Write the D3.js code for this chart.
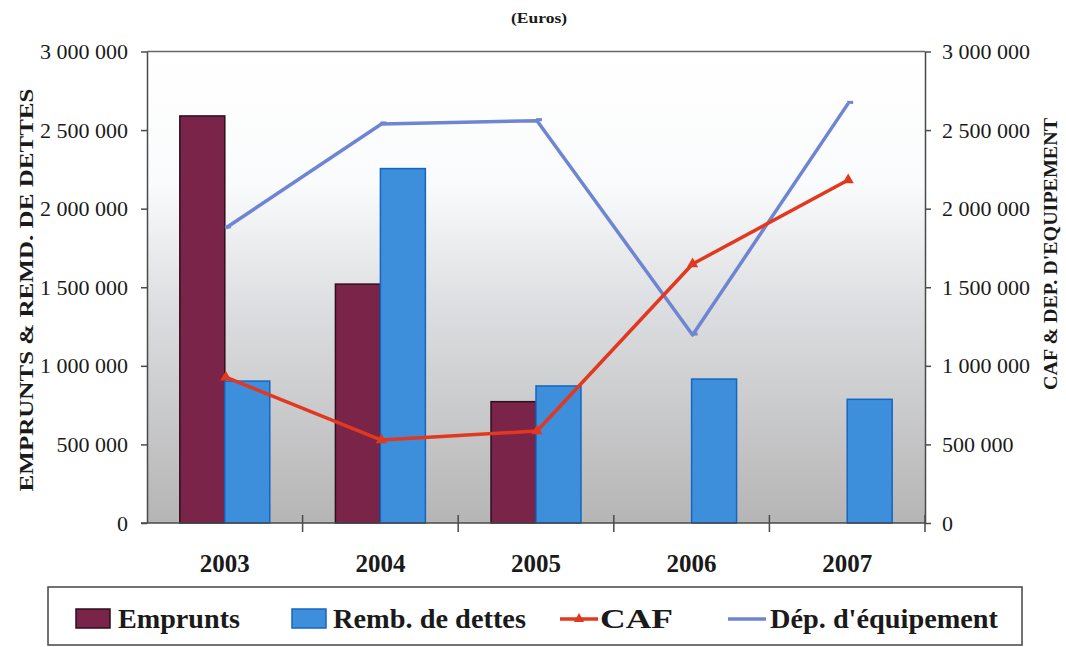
<!DOCTYPE html>
<html>
<head>
<meta charset="utf-8">
<script src="https://cdn.jsdelivr.net/npm/d3@7/dist/d3.min.js"></script>
<style>
  html, body { margin: 0; padding: 0; background: #ffffff; }
  svg { display: block; }
  text { font-family: "Liberation Serif", "Times New Roman", "DejaVu Serif", serif; fill: #1a1a1a; }
</style>
</head>
<body>
<svg id="chart" width="1066" height="647"></svg>
<script>
// ---- Data ----
const years = ["2003", "2004", "2005", "2006", "2007"];
const emprunts = [2590000, 1520000, 772000, 0, 0];
const rembDettes = [903000, 2255000, 872000, 916000, 787000];
const caf = [928000, 528000, 585000, 1648000, 2182000];
const depEquipement = [1877000, 2539000, 2560000, 1196000, 2670000];
const yTicks = [0, 500000, 1000000, 1500000, 2000000, 2500000, 3000000];
const barSeries = ["Emprunts", "Remb. de dettes"];
const lineSeries = ["CAF", "Dép. d'équipement"];

(function () {
// ---- Layout ----
const svg = d3.select("#chart");
const pL = 147, pR = 925, pT = 51.5, pB = 523;
const colEmp = "#7b2449", colEmpStroke = "#2b0f1c";
const colRemb = "#3d8fdc", colRembStroke = "#1665c0";
const colCaf = "#e2381f", colDep = "#6e85d2";

const x0 = d3.scaleBand().domain(years).range([pL, pR]).paddingInner(0).paddingOuter(0);
const x1 = d3.scaleBand().domain(barSeries).range([0, x0.bandwidth()]).paddingInner(0).paddingOuter(0.73);
const y = d3.scaleLinear().domain([0, 3000000]).range([pB, pT]);
const fmt = d3.formatLocale({ decimal: ",", thousands: " ", grouping: [3], currency: ["", " €"] }).format(",");

// Background gradient in plot area
const defs = svg.append("defs");
const grad = defs.append("linearGradient").attr("id", "bg").attr("x1", 0).attr("y1", 0).attr("x2", 0).attr("y2", 1);
grad.append("stop").attr("offset", "0%").attr("stop-color", "#ffffff");
grad.append("stop").attr("offset", "28%").attr("stop-color", "#fafbfc");
grad.append("stop").attr("offset", "55%").attr("stop-color", "#dcdde0");
grad.append("stop").attr("offset", "100%").attr("stop-color", "#b5b5b5");

svg.append("rect").attr("x", pL).attr("y", pT).attr("width", pR - pL).attr("height", pB - pT)
  .attr("fill", "url(#bg)");

// Title
svg.append("text").attr("x", 539).attr("y", 23).attr("text-anchor", "middle")
  .attr("font-size", 14).attr("font-weight", "bold").attr("textLength", 56).attr("lengthAdjust", "spacingAndGlyphs")
  .text("(Euros)");

// Bars
const barData = [];
years.forEach((yr, i) => {
  barData.push({ year: yr, key: "Emprunts", v: emprunts[i] });
  barData.push({ year: yr, key: "Remb. de dettes", v: rembDettes[i] });
});
svg.append("g").selectAll("rect").data(barData.filter(d => d.v > 0)).join("rect")
  .attr("x", d => x0(d.year) + x1(d.key))
  .attr("y", d => y(d.v))
  .attr("width", x1.bandwidth())
  .attr("height", d => y(0) - y(d.v))
  .attr("fill", d => d.key === "Emprunts" ? colEmp : colRemb)
  .attr("stroke", d => d.key === "Emprunts" ? colEmpStroke : colRembStroke)
  .attr("stroke-width", 1.5);

// Lines
const cx = yr => x0(yr) + x0.bandwidth() / 2 + 1;
const line = d3.line().x(d => cx(d.year)).y(d => y(d.v));
const depData = years.map((yr, i) => ({ year: yr, v: depEquipement[i] }));
const cafData = years.map((yr, i) => ({ year: yr, v: caf[i] }));

svg.append("path").datum(depData).attr("d", line).attr("fill", "none")
  .attr("stroke", colDep).attr("stroke-width", 3.5).attr("stroke-linejoin", "round");
svg.append("g").selectAll("line").data(depData).join("line")
  .attr("x1", d => cx(d.year) - 1).attr("x2", d => cx(d.year) + 5)
  .attr("y1", d => y(d.v) - 1).attr("y2", d => y(d.v) - 1)
  .attr("stroke", colDep).attr("stroke-width", 3);

svg.append("path").datum(cafData).attr("d", line).attr("fill", "none")
  .attr("stroke", colCaf).attr("stroke-width", 3.5).attr("stroke-linejoin", "round");
svg.append("g").selectAll("path").data(cafData).join("path")
  .attr("transform", d => `translate(${cx(d.year)},${y(d.v)})`)
  .attr("d", d3.symbol().type(d3.symbolTriangle).size(55))
  .attr("fill", colCaf);

// Plot border / axes
const axisCol = "#4a4a4a";
svg.append("line").attr("x1", pL).attr("x2", pR).attr("y1", pT).attr("y2", pT)
  .attr("stroke", "#666").attr("stroke-width", 1.5);

const yLeft = d3.axisLeft(y).tickValues(yTicks).tickFormat(fmt).tickSize(6).tickSizeOuter(0).tickPadding(13);
const gl = svg.append("g").attr("transform", `translate(${pL},0)`).call(yLeft);
const yRight = d3.axisRight(y).tickValues(yTicks).tickFormat(fmt).tickSize(6).tickSizeOuter(0).tickPadding(11);
const gr = svg.append("g").attr("transform", `translate(${pR},0)`).call(yRight);
[gl, gr].forEach(g => {
  g.select(".domain").attr("stroke", axisCol).attr("stroke-width", 1.5);
  g.selectAll(".tick line").attr("stroke", axisCol).attr("stroke-width", 1.5);
  g.selectAll(".tick text").attr("font-size", 22).attr("fill", "#1a1a1a")
    .attr("font-family", "'Liberation Serif','Times New Roman',serif");
});

// Bottom axis
svg.append("line").attr("x1", pL - 6).attr("x2", pR).attr("y1", pB).attr("y2", pB)
  .attr("stroke", axisCol).attr("stroke-width", 1.5);
const bounds = years.map(yr => x0(yr)).concat([pR]).slice(1);
svg.append("g").selectAll("line").data(bounds).join("line")
  .attr("x1", d => d).attr("x2", d => d).attr("y1", pB - 8).attr("y2", pB + 9)
  .attr("stroke", axisCol).attr("stroke-width", 1.5);
svg.append("g").selectAll("text").data(years).join("text")
  .attr("x", d => x0(d) + x0.bandwidth() / 2)
  .attr("y", 572).attr("text-anchor", "middle")
  .attr("font-size", 25).attr("font-weight", "bold").text(d => d);

// Axis titles
svg.append("text").attr("transform", "translate(33,290) rotate(-90)").attr("text-anchor", "middle")
  .attr("font-size", 19).attr("font-weight", "bold")
  .attr("textLength", 403).attr("lengthAdjust", "spacingAndGlyphs")
  .text("EMPRUNTS & REMD. DE DETTES");
svg.append("text").attr("transform", "translate(1057,254) rotate(-90)").attr("text-anchor", "middle")
  .attr("font-size", 19).attr("font-weight", "bold")
  .attr("textLength", 272).attr("lengthAdjust", "spacingAndGlyphs")
  .text("CAF & DEP. D'EQUIPEMENT");

// Legend
const lg = svg.append("g");
lg.append("rect").attr("x", 48).attr("y", 587).attr("width", 974).attr("height", 58)
  .attr("fill", "#ffffff").attr("stroke", "#444").attr("stroke-width", 1.5);
const legendItems = [
  { label: barSeries[0], type: "bar", fill: colEmp, stroke: colEmpStroke, sx: 76, tx: 118, tw: 122 },
  { label: barSeries[1], type: "bar", fill: colRemb, stroke: colRembStroke, sx: 292, tx: 333, tw: 193 },
  { label: lineSeries[0], type: "line", color: colCaf, sx: 560, tx: 600, tw: 73, marker: true },
  { label: lineSeries[1], type: "line", color: colDep, sx: 728, tx: 770, tw: 228 }
];
legendItems.forEach(it => {
  if (it.type === "bar") {
    lg.append("rect").attr("x", it.sx).attr("y", 609).attr("width", 34).attr("height", 19)
      .attr("fill", it.fill).attr("stroke", it.stroke).attr("stroke-width", 1.5);
  } else {
    lg.append("line").attr("x1", it.sx).attr("x2", it.sx + 38).attr("y1", 619).attr("y2", 619)
      .attr("stroke", it.color).attr("stroke-width", 3.5);
    if (it.marker) {
      lg.append("path").attr("transform", `translate(${it.sx + 19},619)`)
        .attr("d", d3.symbol().type(d3.symbolTriangle).size(45)).attr("fill", it.color);
    }
  }
  lg.append("text").attr("x", it.tx).attr("y", 628).attr("font-size", 27).attr("font-weight", "bold")
    .attr("textLength", it.tw).attr("lengthAdjust", "spacingAndGlyphs").text(it.label);
});
})();
</script>
</body>
</html>
